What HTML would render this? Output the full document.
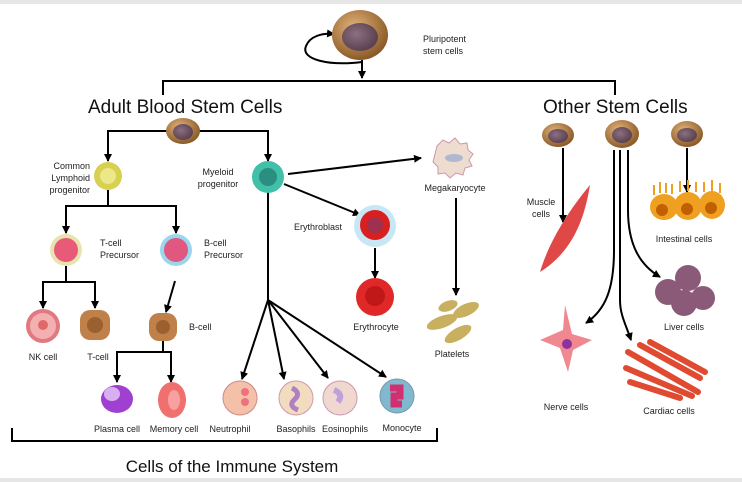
<!DOCTYPE html>
<html><head><meta charset="utf-8"><style>
html,body{margin:0;padding:0;background:#fff;}
svg{display:block;}
text{font-family:"Liberation Sans",sans-serif;fill:#222;}
.s{font-size:9px;}
.h{font-size:19px;fill:#111;}
</style></head><body>
<svg width="742" height="482" viewBox="0 0 742 482" xmlns="http://www.w3.org/2000/svg">
<defs>
<marker id="a" markerWidth="8" markerHeight="8" refX="7" refY="4" orient="auto" markerUnits="userSpaceOnUse"><path d="M0,0 L8,4 L0,8 z" fill="#000"/></marker>
<radialGradient id="st" cx="40%" cy="35%" r="65%"><stop offset="0" stop-color="#e2b37a"/><stop offset="1" stop-color="#8a5a28"/></radialGradient>
<radialGradient id="nu" cx="40%" cy="40%" r="60%"><stop offset="0" stop-color="#8a7080"/><stop offset="1" stop-color="#5c4250"/></radialGradient>
</defs>
<rect x="0" y="0" width="742" height="4" fill="#e6e6e6"/>
<rect x="0" y="478" width="742" height="4" fill="#e6e6e6"/>
<g stroke="#000" stroke-width="2" fill="none">
<path d="M362,60 V78" marker-end="url(#a)"/>
<path d="M362,62 C330,66 300,60 306,46 C310,36 322,33 334,34" marker-end="url(#a)"/>
<path d="M163,95 V81 H615 V95"/>
<path d="M108,160 V131 H268 V160" />
<path d="M108,152 V161" marker-end="url(#a)"/><path d="M268,152 V161" marker-end="url(#a)"/>
<path d="M108,190 V206 M66,232 V206 H176 V232"/>
<path d="M66,222 V233" marker-end="url(#a)"/><path d="M176,222 V233" marker-end="url(#a)"/>
<path d="M66,266 V282 M43,306 V282 H95 V306"/>
<path d="M43,298 V308" marker-end="url(#a)"/><path d="M95,298 V308" marker-end="url(#a)"/>
<path d="M175,281 L166,312" marker-end="url(#a)"/>
<path d="M163,340 V352 M117,380 V352 H171 V380"/>
<path d="M117,372 V382" marker-end="url(#a)"/><path d="M171,372 V382" marker-end="url(#a)"/>
<path d="M268,192 V300"/>
<path d="M268,300 L242,379" marker-end="url(#a)"/>
<path d="M268,300 L284,379" marker-end="url(#a)"/>
<path d="M268,300 L328,378" marker-end="url(#a)"/>
<path d="M268,300 L386,377" marker-end="url(#a)"/>
<path d="M288,174 L421,158" marker-end="url(#a)"/>
<path d="M284,184 L360,215" marker-end="url(#a)"/>
<path d="M375,248 V278" marker-end="url(#a)"/>
<path d="M456,198 V295" marker-end="url(#a)"/>
<path d="M12,428 V441 H437 V428"/>
<path d="M563,148 V222" marker-end="url(#a)"/>
<path d="M687,148 V192" marker-end="url(#a)"/>
<path d="M614,150 V250 C614,290 605,310 586,323" marker-end="url(#a)"/>
<path d="M620,150 V300 C620,315 626,325 631,340" marker-end="url(#a)"/>
<path d="M628,150 V210 C628,245 640,265 660,277" marker-end="url(#a)"/>
</g>
<ellipse cx="360" cy="35" rx="28" ry="25" fill="url(#st)"/><ellipse cx="360" cy="37" rx="18" ry="14" fill="url(#nu)"/>
<ellipse cx="183" cy="131" rx="17" ry="13" fill="url(#st)"/><ellipse cx="183" cy="132" rx="10" ry="8" fill="url(#nu)"/>
<ellipse cx="558" cy="135" rx="16" ry="12" fill="url(#st)"/><ellipse cx="558" cy="136" rx="10" ry="7" fill="url(#nu)"/>
<ellipse cx="622" cy="134" rx="17" ry="14" fill="url(#st)"/><ellipse cx="622" cy="135" rx="10" ry="8" fill="url(#nu)"/>
<ellipse cx="687" cy="134" rx="16" ry="13" fill="url(#st)"/><ellipse cx="687" cy="135" rx="10" ry="7" fill="url(#nu)"/>
<circle cx="108" cy="176" r="14" fill="#d8d050"/><circle cx="108" cy="176" r="8" fill="#ece88a"/>
<circle cx="268" cy="177" r="16" fill="#40c0a8"/><circle cx="268" cy="177" r="9" fill="#2a8f80"/>
<circle cx="66" cy="250" r="16" fill="#e8e4b0"/><circle cx="66" cy="250" r="12" fill="#e85a78"/>
<circle cx="176" cy="250" r="16" fill="#9ad6ee"/><circle cx="176" cy="250" r="12" fill="#e05880"/>
<circle cx="43" cy="326" r="17" fill="#e07a80"/><circle cx="43" cy="326" r="13" fill="#f4b0b0"/><circle cx="43" cy="325" r="5" fill="#e06868"/>
<rect x="80" y="310" width="30" height="30" rx="10" fill="#c0804a"/><circle cx="95" cy="325" r="8" fill="#9a6030"/>
<rect x="149" y="313" width="28" height="28" rx="10" fill="#c0804a"/><circle cx="163" cy="327" r="7" fill="#9a6030"/>
<ellipse cx="117" cy="399" rx="16" ry="14" fill="#a040d0"/><ellipse cx="112" cy="394" rx="8" ry="7" fill="#d8b0f0"/>
<ellipse cx="172" cy="400" rx="14" ry="18" fill="#f07070"/><ellipse cx="174" cy="400" rx="6" ry="10" fill="#f8a0a0"/>
<circle cx="240" cy="398" r="17" fill="#f4c0a8" stroke="#c88" /><circle cx="245" cy="392" r="4" fill="#f07080"/><circle cx="245" cy="402" r="4" fill="#f07080"/>
<circle cx="296" cy="398" r="17" fill="#f2dcc0" stroke="#c9a"/><path d="M292,388 q10,5 2,12 q-6,6 4,10" stroke="#b080c0" stroke-width="5" fill="none"/>
<circle cx="340" cy="398" r="17" fill="#f0d8d0" stroke="#c9a"/><path d="M334,390 q10,4 4,12" stroke="#c0a0d8" stroke-width="6" fill="none"/>
<circle cx="397" cy="396" r="17" fill="#80b8d0" stroke="#79a"/><path d="M390,388 h10 v8 h-6 v8 h8" stroke="#d03070" stroke-width="7" fill="none"/>
<circle cx="375" cy="226" r="21" fill="#c8e6f4"/><circle cx="375" cy="225" r="15" fill="#d82020"/><circle cx="375" cy="225" r="8" fill="#a03050"/>
<circle cx="375" cy="297" r="19" fill="#e02828"/><circle cx="375" cy="296" r="10" fill="#c01818"/>
<path d="M437,146 l6,-6 l6,3 l6,-5 l5,6 l7,-1 l1,7 l5,4 l-4,6 l3,6 l-7,2 l-2,7 l-7,-2 l-6,5 l-5,-5 l-7,1 l0,-7 l-5,-5 z" fill="#efdcd0" stroke="#c9a"/>
<ellipse cx="454" cy="158" rx="9" ry="4" fill="#b0b8d0"/>
<ellipse cx="442" cy="322" rx="16" ry="6" fill="#c8b060" transform="rotate(-20 442 322)"/>
<ellipse cx="466" cy="310" rx="14" ry="6" fill="#c8b060" transform="rotate(-25 466 310)"/>
<ellipse cx="458" cy="334" rx="15" ry="6" fill="#c8b060" transform="rotate(-30 458 334)"/>
<ellipse cx="448" cy="306" rx="10" ry="5" fill="#c8b060" transform="rotate(-20 448 306)"/>
<path d="M590,185 C585,215 575,250 540,272 C548,245 565,215 590,185 z" fill="#e04848"/>
<g fill="#f0a020"><ellipse cx="664" cy="207" rx="14" ry="13"/><ellipse cx="688" cy="206" rx="14" ry="14"/><ellipse cx="712" cy="205" rx="13" ry="14"/></g>
<g stroke="#f0a020" stroke-width="2"><path d="M654,195 v-10 M660,193 v-11 M666,193 v-10 M672,194 v-10 M680,192 v-11 M688,191 v-11 M696,192 v-10 M704,192 v-10 M712,191 v-11 M720,193 v-10"/></g>
<g fill="#c06000"><circle cx="662" cy="210" r="6"/><circle cx="687" cy="209" r="6"/><circle cx="711" cy="208" r="6"/></g>
<g fill="#8a5a78"><circle cx="668" cy="292" r="13"/><circle cx="688" cy="278" r="13"/><circle cx="703" cy="298" r="12"/><circle cx="684" cy="303" r="13"/></g>
<path d="M565,305 L563,330 L540,340 L560,348 L568,372 L573,350 L592,340 L572,334 z" fill="#f08890"/><circle cx="567" cy="344" r="5" fill="#9030a0"/>
<g stroke="#e04a30" stroke-width="6" stroke-linecap="round"><path d="M628,352 L698,392"/><path d="M626,368 L692,396"/><path d="M640,345 L700,378"/><path d="M630,382 L680,398"/><path d="M650,342 L705,372"/></g>
<text class="s" x="423" y="42">Pluripotent</text><text class="s" x="423" y="54">stem cells</text>
<text class="h" x="88" y="113">Adult Blood Stem Cells</text>
<text class="h" x="543" y="113">Other Stem Cells</text>
<text class="s" x="90" y="169" text-anchor="end">Common</text><text class="s" x="90" y="181" text-anchor="end">Lymphoid</text><text class="s" x="90" y="193" text-anchor="end">progenitor</text>
<text class="s" x="218" y="175" text-anchor="middle">Myeloid</text><text class="s" x="218" y="187" text-anchor="middle">progenitor</text>
<text class="s" x="100" y="246">T-cell</text><text class="s" x="100" y="258">Precursor</text>
<text class="s" x="204" y="246">B-cell</text><text class="s" x="204" y="258">Precursor</text>
<text class="s" x="43" y="360" text-anchor="middle">NK cell</text><text class="s" x="98" y="360" text-anchor="middle">T-cell</text>
<text class="s" x="189" y="330">B-cell</text>
<text class="s" x="117" y="432" text-anchor="middle">Plasma cell</text><text class="s" x="174" y="432" text-anchor="middle">Memory cell</text>
<text class="s" x="230" y="432" text-anchor="middle">Neutrophil</text><text class="s" x="296" y="432" text-anchor="middle">Basophils</text>
<text class="s" x="345" y="432" text-anchor="middle">Eosinophils</text><text class="s" x="402" y="431" text-anchor="middle">Monocyte</text>
<text class="s" x="455" y="191" text-anchor="middle">Megakaryocyte</text>
<text class="s" x="318" y="230" text-anchor="middle">Erythroblast</text>
<text class="s" x="376" y="330" text-anchor="middle">Erythrocyte</text>
<text class="s" x="452" y="357" text-anchor="middle">Platelets</text>
<text class="s" x="541" y="205" text-anchor="middle">Muscle</text><text class="s" x="541" y="217" text-anchor="middle">cells</text>
<text class="s" x="684" y="242" text-anchor="middle">Intestinal cells</text>
<text class="s" x="684" y="330" text-anchor="middle">Liver cells</text>
<text class="s" x="566" y="410" text-anchor="middle">Nerve cells</text>
<text class="s" x="669" y="414" text-anchor="middle">Cardiac cells</text>
<text x="232" y="472" text-anchor="middle" style="font-size:17px;fill:#111">Cells of the Immune System</text>
</svg>
</body></html>
